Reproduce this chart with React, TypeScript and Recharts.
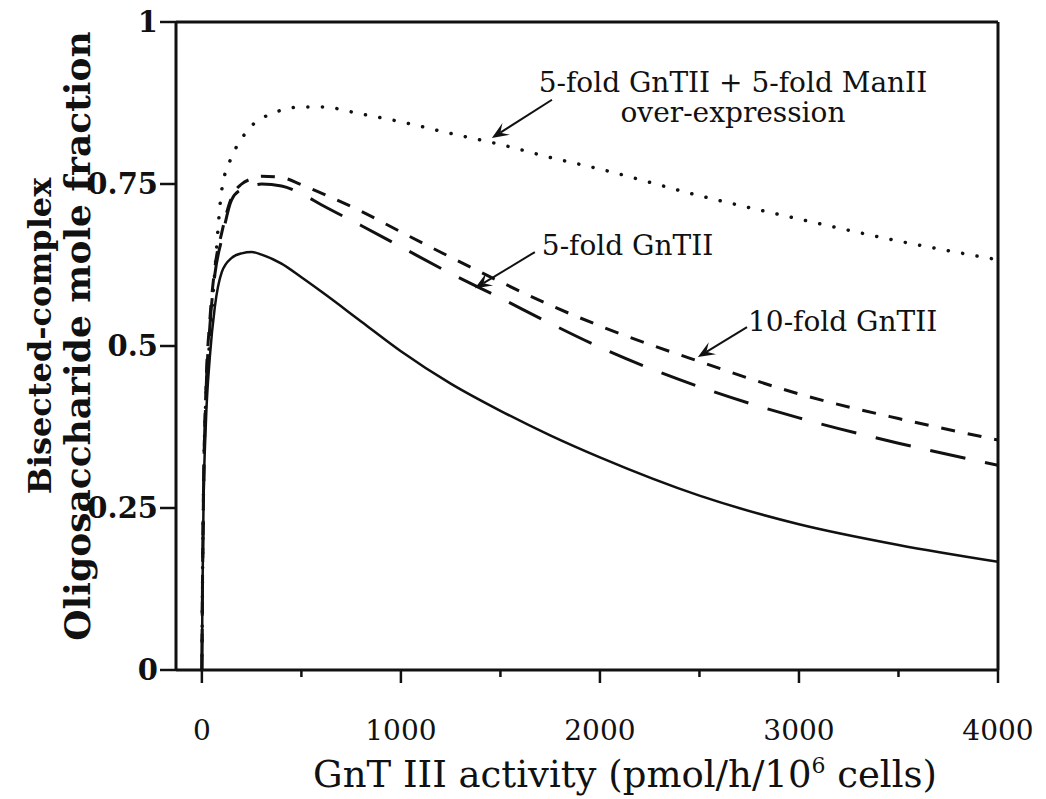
import { LineChart, Line, XAxis, YAxis, ReferenceLine } from "recharts";

// GnT III activity (pmol/h/10^6 cells)
const activity = [0, 3, 8, 20, 40, 65, 100, 150, 200, 250, 300, 400, 500, 600, 800, 1000, 1250, 1500, 1750, 2000, 2500, 3000, 3500, 4000];
// bisected-complex mole fraction
const control = [0, 0.12, 0.25, 0.38, 0.483, 0.56, 0.614, 0.636, 0.643, 0.645, 0.641, 0.627, 0.606, 0.584, 0.538, 0.492, 0.442, 0.4, 0.362, 0.328, 0.269, 0.225, 0.193, 0.167];
const gnt5 = [0, 0.13, 0.27, 0.42, 0.53, 0.61, 0.665, 0.726, 0.742, 0.747, 0.75, 0.747, 0.735, 0.718, 0.686, 0.653, 0.612, 0.574, 0.535, 0.498, 0.437, 0.389, 0.35, 0.316];
const gnt10 = [0, 0.13, 0.27, 0.43, 0.54, 0.62, 0.675, 0.73, 0.75, 0.758, 0.762, 0.76, 0.749, 0.736, 0.708, 0.676, 0.637, 0.599, 0.563, 0.531, 0.476, 0.426, 0.388, 0.355];
const gntMan = [0, 0.13, 0.27, 0.42, 0.51, 0.615, 0.741, 0.792, 0.82, 0.84, 0.851, 0.864, 0.869, 0.869, 0.858, 0.846, 0.828, 0.811, 0.791, 0.773, 0.732, 0.696, 0.662, 0.633];

const xTicks = [0, 500, 1000, 1500, 2000, 2500, 3000, 3500, 4000];
const xMajor = [0, 1000, 2000, 3000, 4000];
const yTicks = [0, 0.25, 0.5, 0.75, 1];
const yTickLabels = ["0", "0.25", "0.5", "0.75", "1"];

const noteLines = [
  ["5-fold GnTII + 5-fold ManII", "over-expression"],
  ["5-fold GnTII"],
  ["10-fold GnTII"],
];
// arrow tail and tip in data units
const noteFrom = [
  { x: 1759, y: 0.88 },
  { x: 1673, y: 0.645 },
  { x: 2739, y: 0.529 },
];
const noteTo = [
  { x: 1457, y: 0.821 },
  { x: 1372, y: 0.589 },
  { x: 2492, y: 0.483 },
];

const data = activity.map((x, i) => ({
  x,
  control: control[i],
  gnt5: gnt5[i],
  gnt10: gnt10[i],
  gntMan: gntMan[i],
}));

const FONT = "'DejaVu Serif', serif";
const INK = "#111";

// text placement relative to the arrow tail
const noteText = [
  { dx: 181, dy: -8, anchor: "middle", gap: 30 },
  { dx: 7, dy: 3, anchor: "start", gap: 0 },
  { dx: 1, dy: 4, anchor: "start", gap: 0 },
];

function XTick(props: any) {
  const { x, y, payload } = props;
  const major = xMajor.includes(payload.value);
  return (
    <g>
      <line x1={x} y1={y} x2={x} y2={y + (major ? 13 : 7)} stroke={INK} strokeWidth={2.5} />
      {major && (
        <text x={x} y={y + 70} textAnchor="middle" fontSize={28} fontFamily={FONT} fill={INK}>
          {payload.value}
        </text>
      )}
    </g>
  );
}

function makeArrow(i: number) {
  return (p: any) => {
    const { x1, y1, x2, y2 } = p;
    const len = Math.hypot(x2 - x1, y2 - y1) || 1;
    const ux = (x2 - x1) / len;
    const uy = (y2 - y1) / len;
    const nx = -uy;
    const ny = ux;
    const bx = x2 - ux * 17;
    const by = y2 - uy * 17;
    const mx = x2 - ux * 10;
    const my = y2 - uy * 10;
    const head = `M${x2},${y2} L${bx + nx * 7},${by + ny * 7} L${mx},${my} L${bx - nx * 7},${by - ny * 7} Z`;
    const t = noteText[i];
    return (
      <g>
        <line x1={x1} y1={y1} x2={mx} y2={my} stroke={INK} strokeWidth={2} />
        <path d={head} fill={INK} />
        {noteLines[i].map((s, k) => (
          <text
            key={k}
            x={x1 + t.dx}
            y={y1 + t.dy + k * t.gap}
            textAnchor={t.anchor}
            fontSize={28}
            fontFamily={FONT}
            fill={INK}
          >
            {s}
          </text>
        ))}
      </g>
    );
  };
}

export default function App() {
  return (
    <div style={{ position: "absolute", left: 0, top: 0, width: 1046, height: 799, background: "#fff" }}>
      <LineChart
        width={1046}
        height={799}
        data={data}
        margin={{ top: 22, right: 48, left: 76, bottom: 29 }}
      >
        <XAxis
          type="number"
          dataKey="x"
          domain={[-130, 4000]}
          allowDataOverflow
          ticks={xTicks}
          interval={0}
          tickSize={0}
          tickMargin={0}
          tick={<XTick />}
          height={100}
          axisLine={{ stroke: INK, strokeWidth: 3 }}
        />
        <YAxis
          type="number"
          domain={[0, 1]}
          ticks={yTicks}
          interval={0}
          width={100}
          tickSize={16}
          tickMargin={2}
          tickFormatter={(v: number) => yTickLabels[yTicks.indexOf(v)]}
          tick={{ fill: INK, fontSize: 29, fontWeight: "bold", fontFamily: FONT }}
          tickLine={{ stroke: INK, strokeWidth: 2.5 }}
          axisLine={{ stroke: INK, strokeWidth: 3 }}
        />
        <ReferenceLine y={1} stroke={INK} strokeWidth={3} />
        <ReferenceLine x={4000} stroke={INK} strokeWidth={3} />

        <Line type="monotone" dataKey="control" stroke={INK} strokeWidth={2.5} dot={false} isAnimationActive={false} />
        <Line type="monotone" dataKey="gnt10" stroke={INK} strokeWidth={3} strokeDasharray="14 13" dot={false} isAnimationActive={false} />
        <Line type="monotone" dataKey="gnt5" stroke={INK} strokeWidth={3} strokeDasharray="36 20" dot={false} isAnimationActive={false} />
        <Line
          type="monotone"
          dataKey="gntMan"
          stroke={INK}
          strokeWidth={3.5}
          strokeLinecap="round"
          strokeDasharray="0.1 14.5"
          dot={false}
          isAnimationActive={false}
        />

        {noteLines.map((_, i) => (
          <ReferenceLine
            key={i}
            segment={[noteFrom[i], noteTo[i]]}
            ifOverflow="visible"
            shape={makeArrow(i)}
          />
        ))}

        <text x={625} y={787} textAnchor="middle" fontSize={37} fontFamily={FONT} fill={INK}>
          GnT III activity (pmol/h/10
          <tspan dy={-14} fontSize={22}>6</tspan>
          <tspan dy={14}> cells)</tspan>
        </text>
        <text
          x={51}
          y={336}
          transform="rotate(-90 51 336)"
          textAnchor="middle"
          fontSize={32}
          fontWeight="bold"
          fontFamily={FONT}
          fill={INK}
        >
          Bisected-complex
        </text>
        <text
          x={90}
          y={336}
          transform="rotate(-90 90 336)"
          textAnchor="middle"
          fontSize={36}
          fontWeight="bold"
          fontFamily={FONT}
          fill={INK}
        >
          Oligosaccharide mole fraction
        </text>
      </LineChart>
    </div>
  );
}
